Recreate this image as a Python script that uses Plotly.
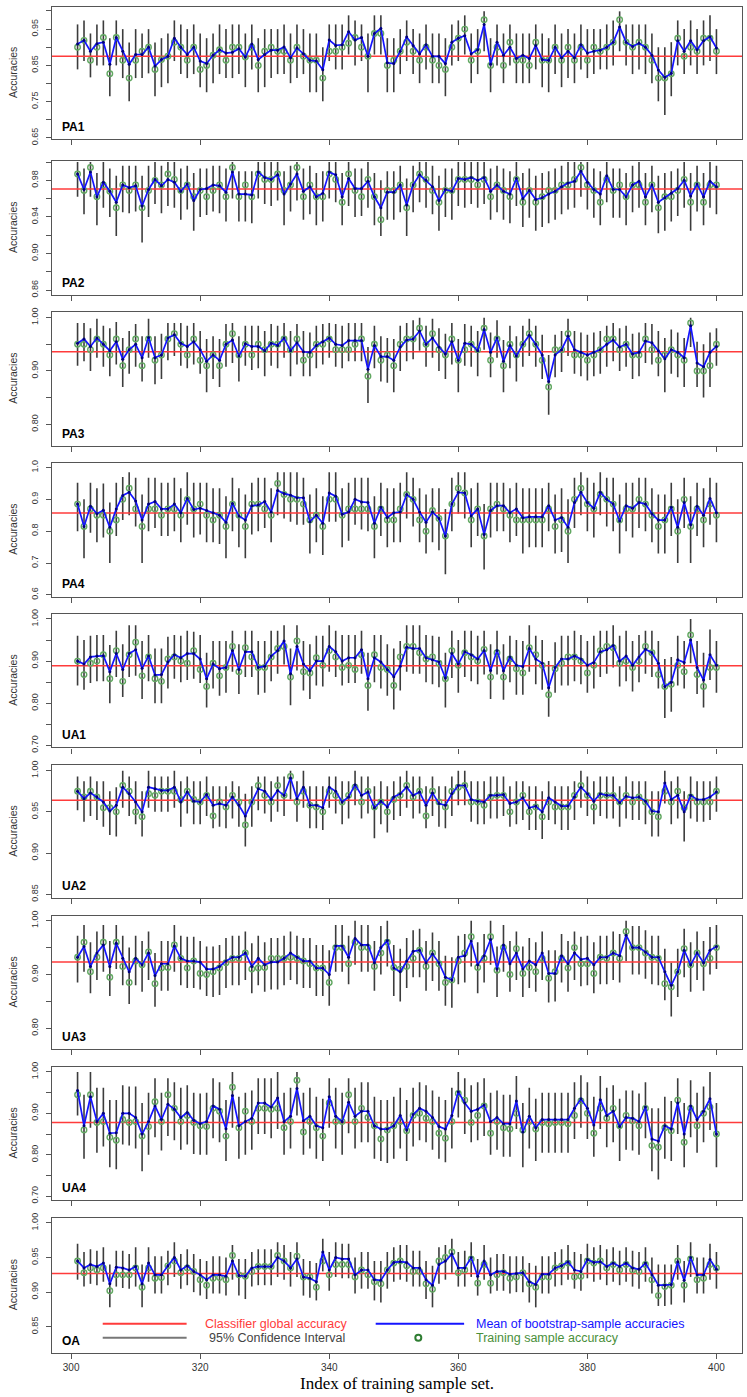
import plotly.graph_objects as go
from plotly.subplots import make_subplots

# ---------------- data ----------------
sample_index = list(range(301, 401))
panel_names = ["PA1", "PA2", "PA3", "PA4", "UA1", "UA2", "UA3", "UA4", "OA"]
global_acc = [0.875, 0.9706, 0.936, 0.857, 0.889, 0.964, 0.923, 0.878, 0.927]

pa1_mean = [0.909, 0.919, 0.889, 0.910, 0.914, 0.853, 0.927, 0.889, 0.853, 0.880,
            0.880, 0.900, 0.848, 0.866, 0.875, 0.925, 0.900, 0.880, 0.900, 0.862,
            0.855, 0.878, 0.893, 0.884, 0.886, 0.896, 0.873, 0.909, 0.866, 0.880,
            0.892, 0.892, 0.901, 0.871, 0.898, 0.882, 0.864, 0.862, 0.838, 0.920,
            0.905, 0.907, 0.943, 0.920, 0.927, 0.875, 0.938, 0.952, 0.857, 0.855,
            0.889, 0.928, 0.905, 0.882, 0.907, 0.875, 0.875, 0.855, 0.914, 0.925,
            0.932, 0.882, 0.893, 0.963, 0.853, 0.914, 0.878, 0.900, 0.869, 0.878,
            0.869, 0.905, 0.866, 0.864, 0.900, 0.871, 0.889, 0.871, 0.907, 0.884,
            0.889, 0.892, 0.900, 0.914, 0.956, 0.914, 0.902, 0.911, 0.900, 0.878,
            0.837, 0.817, 0.828, 0.918, 0.889, 0.918, 0.893, 0.918, 0.929, 0.898]
pa1_lo = [0.839, 0.862, 0.817, 0.850, 0.850, 0.765, 0.850, 0.815, 0.751, 0.815,
          0.815, 0.828, 0.765, 0.790, 0.801, 0.862, 0.826, 0.815, 0.826, 0.790,
          0.776, 0.801, 0.826, 0.815, 0.815, 0.826, 0.790, 0.839, 0.776, 0.790,
          0.815, 0.826, 0.826, 0.801, 0.815, 0.826, 0.776, 0.776, 0.751, 0.862,
          0.839, 0.839, 0.880, 0.850, 0.862, 0.776, 0.880, 0.880, 0.776, 0.776,
          0.826, 0.862, 0.826, 0.801, 0.839, 0.801, 0.801, 0.765, 0.850, 0.862,
          0.880, 0.801, 0.826, 0.889, 0.776, 0.850, 0.801, 0.850, 0.801, 0.801,
          0.801, 0.839, 0.790, 0.776, 0.826, 0.790, 0.815, 0.801, 0.839, 0.815,
          0.826, 0.839, 0.839, 0.850, 0.889, 0.850, 0.826, 0.839, 0.826, 0.801,
          0.751, 0.713, 0.765, 0.850, 0.826, 0.850, 0.826, 0.850, 0.862, 0.826]
pa1_hi = [0.963, 0.974, 0.938, 0.963, 0.974, 0.925, 0.974, 0.950, 0.913, 0.950,
          0.938, 0.950, 0.913, 0.925, 0.938, 0.974, 0.963, 0.950, 0.963, 0.938,
          0.925, 0.938, 0.963, 0.950, 0.963, 0.963, 0.938, 0.963, 0.925, 0.950,
          0.950, 0.950, 0.963, 0.938, 0.963, 0.950, 0.938, 0.938, 0.900, 0.963,
          0.963, 0.963, 0.988, 0.974, 0.963, 0.938, 0.988, 0.988, 0.925, 0.925,
          0.950, 0.974, 0.950, 0.938, 0.963, 0.938, 0.938, 0.925, 0.963, 0.974,
          0.988, 0.938, 0.950, 0.999, 0.925, 0.963, 0.938, 0.963, 0.938, 0.938,
          0.938, 0.963, 0.938, 0.925, 0.963, 0.938, 0.950, 0.938, 0.963, 0.950,
          0.950, 0.950, 0.963, 0.974, 0.999, 0.963, 0.963, 0.963, 0.963, 0.938,
          0.900, 0.900, 0.914, 0.974, 0.950, 0.974, 0.950, 0.974, 0.988, 0.950]
pa1_train = [0.900, 0.919, 0.864, 0.900, 0.927, 0.827, 0.927, 0.864, 0.815, 0.864,
             0.889, 0.900, 0.839, 0.866, 0.875, 0.914, 0.900, 0.864, 0.900, 0.839,
             0.850, 0.878, 0.893, 0.864, 0.900, 0.900, 0.873, 0.900, 0.850, 0.889,
             0.900, 0.889, 0.889, 0.864, 0.900, 0.875, 0.864, 0.864, 0.815, 0.889,
             0.889, 0.900, 0.911, 0.927, 0.900, 0.875, 0.938, 0.938, 0.850, 0.864,
             0.889, 0.914, 0.889, 0.864, 0.900, 0.864, 0.850, 0.839, 0.900, 0.925,
             0.950, 0.864, 0.889, 0.976, 0.850, 0.900, 0.850, 0.914, 0.864, 0.864,
             0.850, 0.914, 0.864, 0.864, 0.900, 0.864, 0.900, 0.864, 0.900, 0.864,
             0.900, 0.889, 0.900, 0.914, 0.976, 0.914, 0.900, 0.914, 0.900, 0.864,
             0.815, 0.815, 0.827, 0.925, 0.875, 0.900, 0.889, 0.925, 0.925, 0.889]

pa2_mean = [0.987, 0.970, 0.989, 0.962, 0.978, 0.968, 0.956, 0.975, 0.972, 0.974,
            0.952, 0.970, 0.981, 0.974, 0.981, 0.978, 0.968, 0.976, 0.958, 0.970,
            0.971, 0.975, 0.974, 0.967, 0.989, 0.965, 0.965, 0.964, 0.989, 0.983,
            0.981, 0.986, 0.965, 0.976, 0.987, 0.968, 0.973, 0.962, 0.966, 0.989,
            0.986, 0.962, 0.982, 0.971, 0.971, 0.979, 0.962, 0.950, 0.967, 0.967,
            0.975, 0.953, 0.975, 0.986, 0.980, 0.973, 0.958, 0.970, 0.968, 0.982,
            0.981, 0.983, 0.980, 0.983, 0.968, 0.975, 0.968, 0.965, 0.982, 0.960,
            0.969, 0.959, 0.961, 0.965, 0.968, 0.973, 0.977, 0.979, 0.990, 0.978,
            0.970, 0.965, 0.985, 0.970, 0.970, 0.962, 0.975, 0.979, 0.962, 0.975,
            0.956, 0.961, 0.966, 0.971, 0.980, 0.963, 0.976, 0.962, 0.979, 0.973]
pa2_lo = [0.962, 0.943, 0.962, 0.931, 0.950, 0.940, 0.919, 0.945, 0.944, 0.946,
          0.912, 0.940, 0.954, 0.944, 0.952, 0.950, 0.937, 0.948, 0.925, 0.940,
          0.942, 0.946, 0.944, 0.935, 0.960, 0.935, 0.935, 0.933, 0.960, 0.954,
          0.952, 0.958, 0.931, 0.946, 0.958, 0.937, 0.943, 0.931, 0.935, 0.960,
          0.956, 0.931, 0.952, 0.940, 0.941, 0.950, 0.931, 0.919, 0.937, 0.937,
          0.945, 0.919, 0.945, 0.956, 0.950, 0.943, 0.925, 0.940, 0.937, 0.952,
          0.950, 0.954, 0.950, 0.954, 0.937, 0.945, 0.937, 0.933, 0.952, 0.929,
          0.939, 0.925, 0.929, 0.933, 0.937, 0.943, 0.948, 0.950, 0.962, 0.948,
          0.939, 0.931, 0.956, 0.939, 0.939, 0.931, 0.945, 0.950, 0.931, 0.945,
          0.922, 0.925, 0.935, 0.941, 0.950, 0.925, 0.946, 0.931, 0.950, 0.943]
pa2_hi = [1.000, 0.993, 1.000, 0.988, 1.000, 0.993, 0.985, 0.996, 0.996, 0.996,
          0.985, 0.996, 1.000, 0.996, 1.000, 1.000, 0.993, 0.996, 0.988, 0.993,
          0.993, 0.996, 0.996, 0.993, 1.000, 0.990, 0.990, 0.990, 1.000, 1.000,
          1.000, 1.000, 0.990, 0.996, 1.000, 0.993, 0.996, 0.988, 0.990, 1.000,
          1.000, 0.988, 1.000, 0.993, 0.993, 1.000, 0.988, 0.980, 0.990, 0.990,
          0.996, 0.982, 0.996, 1.000, 1.000, 0.996, 0.985, 0.993, 0.993, 1.000,
          1.000, 1.000, 1.000, 1.000, 0.993, 0.996, 0.993, 0.990, 1.000, 0.988,
          0.993, 0.985, 0.988, 0.990, 0.993, 0.996, 1.000, 1.000, 1.000, 1.000,
          0.993, 0.990, 1.000, 0.993, 0.993, 0.988, 0.996, 1.000, 0.988, 0.996,
          0.985, 0.988, 0.990, 0.993, 1.000, 0.988, 0.996, 0.988, 1.000, 0.996]
pa2_train = [0.987, 0.969, 0.994, 0.962, 0.975, 0.968, 0.950, 0.975, 0.969, 0.975,
             0.950, 0.969, 0.980, 0.975, 0.987, 0.981, 0.969, 0.975, 0.962, 0.969,
             0.962, 0.969, 0.975, 0.962, 0.994, 0.962, 0.975, 0.962, 0.987, 0.981,
             0.981, 0.987, 0.969, 0.975, 0.994, 0.962, 0.975, 0.962, 0.962, 0.987,
             0.981, 0.956, 0.987, 0.969, 0.962, 0.981, 0.962, 0.937, 0.969, 0.969,
             0.975, 0.950, 0.975, 0.987, 0.981, 0.969, 0.956, 0.969, 0.969, 0.981,
             0.981, 0.981, 0.975, 0.981, 0.962, 0.975, 0.969, 0.962, 0.981, 0.956,
             0.969, 0.956, 0.962, 0.969, 0.969, 0.975, 0.975, 0.981, 0.994, 0.975,
             0.969, 0.956, 0.981, 0.969, 0.975, 0.962, 0.975, 0.975, 0.956, 0.975,
             0.950, 0.962, 0.962, 0.969, 0.981, 0.956, 0.975, 0.956, 0.975, 0.975]

pa3_mean = [0.952, 0.960, 0.946, 0.962, 0.950, 0.938, 0.955, 0.922, 0.940, 0.950,
            0.925, 0.963, 0.925, 0.930, 0.962, 0.968, 0.952, 0.946, 0.955, 0.940,
            0.918, 0.930, 0.920, 0.950, 0.958, 0.928, 0.951, 0.946, 0.946, 0.938,
            0.952, 0.948, 0.962, 0.938, 0.953, 0.936, 0.935, 0.948, 0.955, 0.962,
            0.950, 0.948, 0.957, 0.957, 0.957, 0.903, 0.948, 0.927, 0.927, 0.920,
            0.945, 0.958, 0.960, 0.975, 0.950, 0.962, 0.945, 0.932, 0.955, 0.920,
            0.952, 0.950, 0.938, 0.978, 0.935, 0.962, 0.918, 0.948, 0.928, 0.950,
            0.967, 0.950, 0.930, 0.880, 0.930, 0.940, 0.965, 0.940, 0.935, 0.930,
            0.935, 0.940, 0.950, 0.958, 0.945, 0.950, 0.932, 0.935, 0.956, 0.953,
            0.938, 0.923, 0.940, 0.935, 0.925, 0.985, 0.915, 0.908, 0.935, 0.946]
pa3_lo = [0.910, 0.918, 0.900, 0.925, 0.908, 0.890, 0.912, 0.870, 0.895, 0.908,
          0.880, 0.925, 0.875, 0.885, 0.920, 0.928, 0.910, 0.905, 0.912, 0.895,
          0.860, 0.885, 0.870, 0.908, 0.915, 0.880, 0.910, 0.902, 0.905, 0.890,
          0.910, 0.905, 0.925, 0.890, 0.912, 0.890, 0.890, 0.905, 0.912, 0.925,
          0.908, 0.905, 0.918, 0.918, 0.918, 0.840, 0.905, 0.880, 0.878, 0.860,
          0.900, 0.918, 0.922, 0.938, 0.908, 0.925, 0.900, 0.885, 0.912, 0.860,
          0.910, 0.908, 0.890, 0.940, 0.888, 0.925, 0.860, 0.905, 0.880, 0.908,
          0.928, 0.908, 0.885, 0.818, 0.888, 0.898, 0.928, 0.895, 0.890, 0.882,
          0.890, 0.895, 0.908, 0.918, 0.900, 0.908, 0.885, 0.890, 0.915, 0.912,
          0.890, 0.860, 0.895, 0.888, 0.870, 0.945, 0.870, 0.850, 0.870, 0.910]
pa3_hi = [0.990, 0.990, 0.980, 0.998, 0.985, 0.980, 0.992, 0.962, 0.975, 0.988,
          0.965, 0.998, 0.965, 0.970, 0.990, 0.990, 0.990, 0.985, 0.990, 0.975,
          0.960, 0.965, 0.960, 0.988, 0.990, 0.965, 0.985, 0.985, 0.985, 0.975,
          0.988, 0.985, 0.990, 0.975, 0.988, 0.975, 0.972, 0.985, 0.988, 0.990,
          0.988, 0.985, 0.990, 0.990, 0.990, 0.945, 0.985, 0.965, 0.962, 0.960,
          0.985, 0.990, 0.995, 1.000, 0.985, 0.998, 0.980, 0.970, 0.990, 0.960,
          0.988, 0.985, 0.975, 1.000, 0.972, 0.995, 0.958, 0.985, 0.965, 0.985,
          0.998, 0.985, 0.968, 0.930, 0.968, 0.975, 0.998, 0.975, 0.972, 0.968,
          0.972, 0.975, 0.985, 0.990, 0.980, 0.985, 0.970, 0.972, 0.990, 0.988,
          0.975, 0.962, 0.978, 0.972, 0.962, 1.000, 0.955, 0.950, 0.972, 0.980]
pa3_train = [0.950, 0.950, 0.940, 0.960, 0.950, 0.930, 0.960, 0.910, 0.940, 0.960,
             0.910, 0.960, 0.920, 0.930, 0.960, 0.970, 0.950, 0.930, 0.960, 0.920,
             0.910, 0.930, 0.910, 0.950, 0.970, 0.930, 0.950, 0.930, 0.950, 0.940,
             0.950, 0.950, 0.960, 0.940, 0.960, 0.920, 0.930, 0.950, 0.950, 0.960,
             0.940, 0.940, 0.940, 0.950, 0.960, 0.890, 0.950, 0.920, 0.930, 0.910,
             0.950, 0.960, 0.960, 0.980, 0.950, 0.970, 0.940, 0.930, 0.960, 0.920,
             0.940, 0.950, 0.940, 0.980, 0.920, 0.960, 0.910, 0.950, 0.930, 0.950,
             0.970, 0.950, 0.920, 0.870, 0.940, 0.940, 0.970, 0.930, 0.930, 0.920,
             0.930, 0.940, 0.960, 0.960, 0.940, 0.950, 0.930, 0.930, 0.960, 0.940,
             0.920, 0.930, 0.940, 0.930, 0.920, 0.990, 0.900, 0.900, 0.910, 0.950]

pa4_mean = [0.885, 0.815, 0.878, 0.855, 0.866, 0.812, 0.870, 0.912, 0.922, 0.895,
            0.835, 0.885, 0.893, 0.870, 0.870, 0.885, 0.858, 0.903, 0.868, 0.872,
            0.865, 0.858, 0.850, 0.828, 0.887, 0.848, 0.835, 0.880, 0.882, 0.893,
            0.860, 0.928, 0.918, 0.913, 0.905, 0.905, 0.830, 0.850, 0.825, 0.920,
            0.910, 0.853, 0.860, 0.900, 0.892, 0.890, 0.825, 0.875, 0.843, 0.858,
            0.860, 0.915, 0.900, 0.860, 0.828, 0.860, 0.840, 0.785, 0.885, 0.922,
            0.920, 0.848, 0.870, 0.790, 0.865, 0.880, 0.880, 0.858, 0.870, 0.842,
            0.845, 0.845, 0.845, 0.880, 0.835, 0.843, 0.812, 0.890, 0.922, 0.890,
            0.872, 0.922, 0.900, 0.885, 0.832, 0.880, 0.872, 0.890, 0.885, 0.855,
            0.835, 0.835, 0.875, 0.812, 0.890, 0.820, 0.878, 0.850, 0.903, 0.858]
pa4_lo = [0.800, 0.715, 0.795, 0.765, 0.780, 0.700, 0.785, 0.835, 0.850, 0.815,
          0.700, 0.800, 0.810, 0.785, 0.785, 0.800, 0.765, 0.820, 0.780, 0.790,
          0.765, 0.765, 0.760, 0.715, 0.800, 0.750, 0.715, 0.790, 0.800, 0.810,
          0.765, 0.850, 0.840, 0.830, 0.820, 0.820, 0.730, 0.765, 0.725, 0.830,
          0.830, 0.750, 0.770, 0.820, 0.805, 0.800, 0.715, 0.785, 0.750, 0.765,
          0.765, 0.840, 0.815, 0.765, 0.730, 0.765, 0.740, 0.665, 0.800, 0.855,
          0.840, 0.750, 0.785, 0.680, 0.780, 0.800, 0.800, 0.765, 0.785, 0.730,
          0.750, 0.750, 0.750, 0.800, 0.730, 0.735, 0.700, 0.810, 0.850, 0.800,
          0.780, 0.850, 0.815, 0.800, 0.730, 0.800, 0.780, 0.810, 0.800, 0.765,
          0.730, 0.730, 0.785, 0.700, 0.810, 0.700, 0.785, 0.750, 0.820, 0.765]
pa4_hi = [0.952, 0.900, 0.952, 0.935, 0.950, 0.890, 0.952, 0.970, 0.985, 0.968,
          0.915, 0.968, 0.968, 0.952, 0.952, 0.968, 0.935, 0.985, 0.952, 0.952,
          0.952, 0.935, 0.935, 0.910, 0.968, 0.935, 0.915, 0.952, 0.968, 0.968,
          0.935, 0.985, 0.985, 0.985, 0.985, 0.968, 0.915, 0.935, 0.910, 0.985,
          0.985, 0.935, 0.952, 0.968, 0.968, 0.968, 0.910, 0.952, 0.935, 0.935,
          0.952, 0.985, 0.968, 0.935, 0.915, 0.935, 0.935, 0.870, 0.968, 0.985,
          0.985, 0.935, 0.952, 0.885, 0.952, 0.952, 0.952, 0.935, 0.952, 0.935,
          0.935, 0.935, 0.935, 0.952, 0.915, 0.935, 0.900, 0.968, 0.985, 0.968,
          0.952, 0.985, 0.968, 0.968, 0.915, 0.952, 0.952, 0.968, 0.968, 0.935,
          0.915, 0.915, 0.952, 0.900, 0.968, 0.910, 0.952, 0.935, 0.968, 0.952]
pa4_train = [0.885, 0.815, 0.870, 0.850, 0.850, 0.800, 0.835, 0.900, 0.935, 0.870,
             0.815, 0.870, 0.870, 0.850, 0.870, 0.870, 0.850, 0.900, 0.870, 0.885,
             0.850, 0.835, 0.850, 0.815, 0.885, 0.850, 0.815, 0.885, 0.885, 0.870,
             0.850, 0.950, 0.915, 0.900, 0.900, 0.885, 0.835, 0.850, 0.815, 0.900,
             0.900, 0.850, 0.870, 0.870, 0.870, 0.870, 0.815, 0.870, 0.835, 0.835,
             0.870, 0.915, 0.900, 0.835, 0.800, 0.865, 0.840, 0.785, 0.885, 0.935,
             0.920, 0.835, 0.870, 0.785, 0.870, 0.885, 0.870, 0.850, 0.835, 0.835,
             0.835, 0.835, 0.835, 0.870, 0.815, 0.835, 0.800, 0.900, 0.935, 0.885,
             0.870, 0.915, 0.900, 0.885, 0.835, 0.870, 0.870, 0.900, 0.885, 0.850,
             0.815, 0.835, 0.870, 0.800, 0.900, 0.815, 0.870, 0.835, 0.885, 0.850]

ua1_mean = [0.900, 0.893, 0.910, 0.912, 0.913, 0.875, 0.918, 0.880, 0.918, 0.927,
            0.883, 0.912, 0.867, 0.868, 0.898, 0.915, 0.908, 0.918, 0.918, 0.905,
            0.858, 0.893, 0.882, 0.885, 0.925, 0.880, 0.922, 0.922, 0.885, 0.888,
            0.912, 0.925, 0.948, 0.870, 0.935, 0.893, 0.877, 0.900, 0.900, 0.935,
            0.922, 0.900, 0.908, 0.908, 0.927, 0.858, 0.908, 0.898, 0.880, 0.863,
            0.888, 0.933, 0.930, 0.930, 0.908, 0.903, 0.898, 0.860, 0.918, 0.893,
            0.922, 0.915, 0.905, 0.925, 0.878, 0.925, 0.877, 0.910, 0.890, 0.887,
            0.930, 0.905, 0.895, 0.837, 0.885, 0.905, 0.905, 0.912, 0.905, 0.890,
            0.897, 0.922, 0.927, 0.937, 0.900, 0.912, 0.890, 0.910, 0.928, 0.920,
            0.895, 0.840, 0.850, 0.903, 0.897, 0.950, 0.885, 0.855, 0.915, 0.890]
ua1_lo = [0.842, 0.832, 0.848, 0.852, 0.852, 0.800, 0.862, 0.815, 0.862, 0.865,
          0.810, 0.852, 0.800, 0.800, 0.835, 0.858, 0.850, 0.855, 0.858, 0.848,
          0.790, 0.835, 0.818, 0.825, 0.875, 0.822, 0.862, 0.862, 0.820, 0.825,
          0.852, 0.870, 0.892, 0.795, 0.878, 0.830, 0.810, 0.842, 0.840, 0.875,
          0.862, 0.842, 0.848, 0.848, 0.870, 0.782, 0.850, 0.835, 0.818, 0.785,
          0.830, 0.875, 0.870, 0.870, 0.850, 0.845, 0.838, 0.790, 0.860, 0.825,
          0.862, 0.852, 0.845, 0.868, 0.810, 0.868, 0.808, 0.850, 0.820, 0.820,
          0.875, 0.845, 0.832, 0.768, 0.825, 0.842, 0.842, 0.852, 0.845, 0.825,
          0.835, 0.862, 0.870, 0.885, 0.840, 0.852, 0.828, 0.850, 0.870, 0.862,
          0.835, 0.765, 0.780, 0.842, 0.835, 0.895, 0.822, 0.790, 0.855, 0.825]
ua1_hi = [0.960, 0.950, 0.960, 0.962, 0.962, 0.938, 0.972, 0.940, 0.985, 0.985,
          0.948, 0.962, 0.930, 0.930, 0.958, 0.962, 0.960, 0.972, 0.970, 0.962,
          0.920, 0.948, 0.948, 0.948, 0.972, 0.940, 0.972, 0.972, 0.948, 0.948,
          0.972, 0.972, 0.985, 0.930, 0.985, 0.948, 0.940, 0.960, 0.960, 0.985,
          0.972, 0.962, 0.962, 0.962, 0.972, 0.920, 0.962, 0.962, 0.940, 0.930,
          0.948, 0.985, 0.985, 0.985, 0.962, 0.960, 0.958, 0.920, 0.972, 0.950,
          0.972, 0.972, 0.960, 0.972, 0.940, 0.972, 0.940, 0.960, 0.950, 0.948,
          0.985, 0.960, 0.950, 0.900, 0.945, 0.960, 0.960, 0.972, 0.962, 0.948,
          0.960, 0.972, 0.972, 0.985, 0.960, 0.972, 0.948, 0.962, 0.972, 0.972,
          0.948, 0.905, 0.910, 0.960, 0.948, 1.000, 0.948, 0.920, 0.975, 0.948]
ua1_train = [0.900, 0.868, 0.895, 0.900, 0.915, 0.858, 0.925, 0.852, 0.915, 0.945,
             0.865, 0.910, 0.858, 0.852, 0.905, 0.910, 0.900, 0.895, 0.925, 0.880,
             0.840, 0.895, 0.865, 0.885, 0.935, 0.875, 0.932, 0.910, 0.885, 0.885,
             0.910, 0.930, 0.935, 0.862, 0.948, 0.875, 0.872, 0.908, 0.890, 0.925,
             0.910, 0.885, 0.890, 0.880, 0.915, 0.842, 0.915, 0.885, 0.880, 0.842,
             0.910, 0.935, 0.935, 0.920, 0.905, 0.910, 0.895, 0.858, 0.925, 0.890,
             0.920, 0.910, 0.900, 0.928, 0.862, 0.920, 0.862, 0.905, 0.882, 0.872,
             0.932, 0.915, 0.890, 0.820, 0.882, 0.895, 0.910, 0.910, 0.900, 0.872,
             0.890, 0.925, 0.935, 0.932, 0.895, 0.900, 0.885, 0.900, 0.935, 0.920,
             0.868, 0.840, 0.845, 0.890, 0.875, 0.962, 0.868, 0.840, 0.885, 0.885]

ua2_mean = [0.975, 0.966, 0.973, 0.968, 0.962, 0.951, 0.958, 0.980, 0.972, 0.962,
            0.950, 0.980, 0.978, 0.976, 0.976, 0.980, 0.962, 0.974, 0.963, 0.962,
            0.971, 0.958, 0.960, 0.958, 0.968, 0.958, 0.945, 0.962, 0.978, 0.975,
            0.965, 0.976, 0.970, 0.991, 0.966, 0.980, 0.958, 0.958, 0.955, 0.980,
            0.975, 0.962, 0.968, 0.983, 0.970, 0.974, 0.955, 0.963, 0.956, 0.968,
            0.972, 0.980, 0.970, 0.974, 0.958, 0.973, 0.960, 0.958, 0.972, 0.982,
            0.982, 0.965, 0.963, 0.962, 0.970, 0.970, 0.971, 0.960, 0.962, 0.967,
            0.955, 0.957, 0.950, 0.967, 0.962, 0.957, 0.957, 0.968, 0.980, 0.972,
            0.963, 0.972, 0.970, 0.970, 0.961, 0.969, 0.967, 0.968, 0.963, 0.951,
            0.950, 0.985, 0.965, 0.970, 0.950, 0.970, 0.965, 0.965, 0.968, 0.974]
ua2_lo = [0.952, 0.938, 0.945, 0.940, 0.932, 0.922, 0.920, 0.955, 0.945, 0.935,
          0.920, 0.955, 0.950, 0.950, 0.950, 0.955, 0.932, 0.948, 0.935, 0.935,
          0.945, 0.930, 0.932, 0.930, 0.942, 0.932, 0.908, 0.932, 0.952, 0.948,
          0.938, 0.950, 0.945, 0.965, 0.938, 0.955, 0.930, 0.930, 0.928, 0.955,
          0.948, 0.935, 0.942, 0.958, 0.942, 0.948, 0.918, 0.935, 0.925, 0.940,
          0.945, 0.955, 0.942, 0.948, 0.930, 0.945, 0.932, 0.930, 0.945, 0.958,
          0.958, 0.938, 0.935, 0.935, 0.942, 0.942, 0.945, 0.932, 0.935, 0.940,
          0.928, 0.928, 0.917, 0.940, 0.935, 0.928, 0.928, 0.940, 0.955, 0.945,
          0.935, 0.945, 0.942, 0.942, 0.932, 0.942, 0.940, 0.940, 0.935, 0.920,
          0.920, 0.960, 0.935, 0.942, 0.914, 0.942, 0.938, 0.938, 0.940, 0.950]
ua2_hi = [0.993, 0.987, 0.993, 0.987, 0.987, 0.975, 0.980, 1.000, 0.993, 0.987,
          0.975, 1.000, 0.993, 0.993, 0.993, 1.000, 0.987, 0.993, 0.987, 0.987,
          0.993, 0.981, 0.981, 0.981, 0.987, 0.981, 0.972, 0.981, 0.993, 0.993,
          0.987, 0.993, 0.993, 1.000, 0.987, 1.000, 0.981, 0.981, 0.981, 0.993,
          0.993, 0.987, 0.987, 1.000, 0.993, 0.993, 0.981, 0.987, 0.981, 0.987,
          0.993, 1.000, 0.993, 0.993, 0.981, 0.993, 0.981, 0.981, 0.993, 1.000,
          1.000, 0.987, 0.987, 0.987, 0.993, 0.993, 0.993, 0.981, 0.987, 0.987,
          0.981, 0.981, 0.975, 0.987, 0.981, 0.981, 0.981, 0.987, 1.000, 0.993,
          0.987, 0.993, 0.993, 0.993, 0.981, 0.993, 0.987, 0.987, 0.987, 0.975,
          0.975, 1.000, 0.987, 0.993, 0.975, 0.993, 0.987, 0.987, 0.987, 0.993]
ua2_train = [0.975, 0.968, 0.975, 0.968, 0.955, 0.955, 0.950, 0.982, 0.975, 0.950,
             0.944, 0.972, 0.970, 0.975, 0.975, 0.975, 0.965, 0.975, 0.965, 0.962,
             0.970, 0.945, 0.962, 0.956, 0.970, 0.962, 0.934, 0.962, 0.982, 0.970,
             0.962, 0.982, 0.970, 0.993, 0.962, 0.975, 0.958, 0.956, 0.950, 0.975,
             0.970, 0.962, 0.970, 0.980, 0.962, 0.975, 0.956, 0.962, 0.950, 0.965,
             0.970, 0.982, 0.968, 0.975, 0.945, 0.975, 0.962, 0.956, 0.975, 0.980,
             0.982, 0.962, 0.962, 0.958, 0.968, 0.970, 0.970, 0.950, 0.962, 0.970,
             0.950, 0.956, 0.944, 0.962, 0.956, 0.956, 0.956, 0.970, 0.982, 0.970,
             0.956, 0.970, 0.970, 0.970, 0.962, 0.970, 0.962, 0.968, 0.962, 0.950,
             0.944, 0.975, 0.962, 0.975, 0.955, 0.968, 0.962, 0.962, 0.962, 0.975]

ua3_mean = [0.932, 0.952, 0.915, 0.940, 0.955, 0.915, 0.958, 0.930, 0.905, 0.930,
            0.918, 0.940, 0.898, 0.920, 0.920, 0.953, 0.930, 0.925, 0.925, 0.923,
            0.910, 0.910, 0.915, 0.925, 0.932, 0.932, 0.940, 0.915, 0.930, 0.918,
            0.923, 0.923, 0.930, 0.940, 0.932, 0.925, 0.925, 0.912, 0.912, 0.900,
            0.953, 0.953, 0.932, 0.967, 0.955, 0.955, 0.922, 0.950, 0.963, 0.912,
            0.905, 0.925, 0.943, 0.945, 0.922, 0.938, 0.922, 0.895, 0.890, 0.932,
            0.935, 0.962, 0.918, 0.935, 0.965, 0.910, 0.955, 0.920, 0.940, 0.910,
            0.925, 0.918, 0.940, 0.902, 0.902, 0.935, 0.920, 0.940, 0.928, 0.930,
            0.918, 0.932, 0.932, 0.940, 0.935, 0.973, 0.950, 0.950, 0.942, 0.932,
            0.932, 0.905, 0.880, 0.905, 0.945, 0.918, 0.940, 0.922, 0.945, 0.952]
ua3_lo = [0.885, 0.905, 0.865, 0.890, 0.905, 0.860, 0.910, 0.880, 0.845, 0.880,
          0.868, 0.890, 0.840, 0.870, 0.870, 0.905, 0.880, 0.875, 0.875, 0.872,
          0.860, 0.858, 0.862, 0.875, 0.880, 0.880, 0.890, 0.865, 0.880, 0.868,
          0.872, 0.872, 0.880, 0.890, 0.882, 0.875, 0.875, 0.860, 0.860, 0.842,
          0.905, 0.905, 0.882, 0.918, 0.905, 0.905, 0.870, 0.900, 0.915, 0.860,
          0.850, 0.875, 0.895, 0.895, 0.870, 0.888, 0.870, 0.842, 0.838, 0.882,
          0.885, 0.915, 0.865, 0.885, 0.918, 0.858, 0.905, 0.868, 0.890, 0.858,
          0.875, 0.868, 0.890, 0.848, 0.850, 0.885, 0.868, 0.890, 0.878, 0.880,
          0.865, 0.882, 0.882, 0.890, 0.885, 0.925, 0.900, 0.900, 0.892, 0.882,
          0.880, 0.852, 0.822, 0.858, 0.895, 0.868, 0.890, 0.870, 0.900, 0.910]
ua3_hi = [0.972, 0.992, 0.960, 0.980, 0.992, 0.962, 0.992, 0.972, 0.950, 0.972,
          0.962, 0.980, 0.940, 0.962, 0.962, 0.992, 0.972, 0.970, 0.970, 0.962,
          0.952, 0.952, 0.955, 0.968, 0.972, 0.972, 0.980, 0.958, 0.972, 0.960,
          0.968, 0.968, 0.972, 0.980, 0.972, 0.968, 0.968, 0.955, 0.955, 0.945,
          0.992, 0.992, 0.972, 1.000, 0.992, 0.992, 0.962, 0.990, 1.000, 0.955,
          0.948, 0.968, 0.982, 0.985, 0.962, 0.978, 0.962, 0.935, 0.932, 0.972,
          0.975, 1.000, 0.960, 0.975, 1.000, 0.952, 0.992, 0.962, 0.980, 0.952,
          0.968, 0.960, 0.980, 0.945, 0.945, 0.975, 0.962, 0.980, 0.970, 0.972,
          0.960, 0.972, 0.972, 0.980, 0.975, 1.000, 0.990, 0.990, 0.982, 0.972,
          0.972, 0.948, 0.922, 0.948, 0.985, 0.960, 0.980, 0.962, 0.988, 0.992]
ua3_train = [0.932, 0.960, 0.905, 0.932, 0.960, 0.895, 0.960, 0.915, 0.885, 0.925,
             0.918, 0.942, 0.883, 0.912, 0.913, 0.955, 0.930, 0.912, 0.925, 0.902,
             0.900, 0.905, 0.912, 0.922, 0.930, 0.930, 0.940, 0.910, 0.912, 0.913,
             0.930, 0.930, 0.930, 0.932, 0.930, 0.925, 0.920, 0.912, 0.912, 0.885,
             0.950, 0.950, 0.920, 0.960, 0.950, 0.950, 0.915, 0.940, 0.960, 0.913,
             0.910, 0.915, 0.930, 0.945, 0.915, 0.940, 0.920, 0.885, 0.890, 0.925,
             0.940, 0.970, 0.913, 0.930, 0.970, 0.908, 0.950, 0.900, 0.948, 0.902,
             0.913, 0.905, 0.930, 0.893, 0.905, 0.930, 0.912, 0.950, 0.920, 0.920,
             0.902, 0.932, 0.930, 0.940, 0.930, 0.980, 0.950, 0.950, 0.940, 0.932,
             0.930, 0.883, 0.877, 0.905, 0.948, 0.918, 0.940, 0.920, 0.930, 0.950]

ua4_mean = [0.955, 0.870, 0.940, 0.880, 0.900, 0.852, 0.853, 0.900, 0.900, 0.890,
            0.850, 0.880, 0.918, 0.885, 0.922, 0.910, 0.890, 0.902, 0.883, 0.875,
            0.880, 0.918, 0.910, 0.863, 0.943, 0.870, 0.880, 0.888, 0.925, 0.925,
            0.915, 0.937, 0.880, 0.893, 0.960, 0.882, 0.893, 0.870, 0.865, 0.940,
            0.893, 0.880, 0.927, 0.893, 0.905, 0.905, 0.870, 0.862, 0.862, 0.870,
            0.895, 0.860, 0.897, 0.912, 0.905, 0.890, 0.868, 0.862, 0.895, 0.952,
            0.925, 0.905, 0.910, 0.920, 0.880, 0.890, 0.875, 0.875, 0.930, 0.855,
            0.893, 0.865, 0.885, 0.885, 0.885, 0.885, 0.885, 0.912, 0.935, 0.912,
            0.872, 0.933, 0.895, 0.905, 0.868, 0.890, 0.888, 0.880, 0.915, 0.838,
            0.833, 0.870, 0.862, 0.925, 0.850, 0.918, 0.885, 0.905, 0.935, 0.850]
ua4_lo = [0.895, 0.790, 0.865, 0.805, 0.820, 0.770, 0.765, 0.825, 0.822, 0.815,
          0.760, 0.800, 0.842, 0.810, 0.845, 0.835, 0.812, 0.825, 0.802, 0.800,
          0.800, 0.840, 0.830, 0.785, 0.865, 0.790, 0.800, 0.812, 0.850, 0.850,
          0.840, 0.862, 0.800, 0.815, 0.895, 0.800, 0.815, 0.790, 0.785, 0.865,
          0.815, 0.800, 0.852, 0.815, 0.830, 0.830, 0.790, 0.785, 0.780, 0.790,
          0.815, 0.785, 0.820, 0.835, 0.830, 0.812, 0.790, 0.782, 0.815, 0.890,
          0.850, 0.830, 0.835, 0.845, 0.800, 0.812, 0.795, 0.795, 0.862, 0.770,
          0.815, 0.785, 0.805, 0.805, 0.805, 0.805, 0.805, 0.838, 0.865, 0.838,
          0.795, 0.862, 0.818, 0.830, 0.785, 0.812, 0.810, 0.800, 0.840, 0.760,
          0.740, 0.790, 0.785, 0.850, 0.770, 0.842, 0.805, 0.830, 0.860, 0.770]
ua4_hi = [1.000, 0.945, 1.000, 0.962, 0.962, 0.932, 0.932, 0.968, 0.965, 0.965,
          0.925, 0.950, 0.985, 0.950, 0.985, 0.975, 0.962, 0.968, 0.950, 0.948,
          0.950, 0.985, 0.975, 0.932, 1.000, 0.940, 0.950, 0.955, 0.985, 0.985,
          0.985, 1.000, 0.950, 0.962, 1.000, 0.950, 0.962, 0.940, 0.935, 0.985,
          0.962, 0.950, 0.985, 0.962, 0.975, 0.975, 0.940, 0.932, 0.932, 0.940,
          0.962, 0.932, 0.962, 0.975, 0.968, 0.955, 0.940, 0.932, 0.962, 1.000,
          0.985, 0.968, 0.975, 0.985, 0.950, 0.955, 0.945, 0.945, 0.990, 0.925,
          0.962, 0.935, 0.950, 0.950, 0.950, 0.950, 0.950, 0.975, 0.992, 0.975,
          0.940, 0.990, 0.962, 0.968, 0.935, 0.955, 0.955, 0.948, 0.975, 0.912,
          0.912, 0.940, 0.930, 0.985, 0.925, 0.980, 0.950, 0.965, 1.000, 0.925]
ua4_train = [0.945, 0.860, 0.945, 0.878, 0.880, 0.842, 0.835, 0.885, 0.878, 0.880,
             0.845, 0.868, 0.928, 0.880, 0.945, 0.912, 0.880, 0.895, 0.878, 0.870,
             0.868, 0.912, 0.905, 0.845, 0.963, 0.865, 0.905, 0.880, 0.912, 0.912,
             0.910, 0.912, 0.865, 0.880, 0.980, 0.855, 0.880, 0.865, 0.845, 0.925,
             0.880, 0.880, 0.945, 0.880, 0.912, 0.890, 0.870, 0.838, 0.860, 0.870,
             0.880, 0.858, 0.895, 0.900, 0.888, 0.880, 0.852, 0.840, 0.880, 0.948,
             0.932, 0.878, 0.895, 0.918, 0.852, 0.880, 0.865, 0.862, 0.900, 0.860,
             0.880, 0.862, 0.878, 0.875, 0.878, 0.878, 0.875, 0.895, 0.930, 0.900,
             0.852, 0.912, 0.888, 0.912, 0.870, 0.895, 0.882, 0.870, 0.912, 0.822,
             0.818, 0.865, 0.858, 0.932, 0.830, 0.912, 0.870, 0.900, 0.915, 0.850]

oa_mean = [0.945, 0.935, 0.940, 0.937, 0.942, 0.912, 0.936, 0.935, 0.932, 0.937,
           0.912, 0.942, 0.925, 0.925, 0.938, 0.950, 0.932, 0.938, 0.930, 0.925,
           0.918, 0.925, 0.925, 0.923, 0.945, 0.924, 0.923, 0.935, 0.937, 0.937,
           0.937, 0.950, 0.945, 0.935, 0.948, 0.922, 0.920, 0.915, 0.958, 0.932,
           0.950, 0.948, 0.948, 0.925, 0.932, 0.932, 0.918, 0.917, 0.932, 0.943,
           0.944, 0.943, 0.935, 0.935, 0.918, 0.910, 0.940, 0.945, 0.955, 0.935,
           0.935, 0.950, 0.923, 0.945, 0.925, 0.930, 0.930, 0.926, 0.927, 0.928,
           0.915, 0.911, 0.926, 0.926, 0.935, 0.938, 0.944, 0.932, 0.930, 0.947,
           0.943, 0.944, 0.937, 0.942, 0.937, 0.942, 0.935, 0.933, 0.942, 0.925,
           0.910, 0.910, 0.911, 0.944, 0.917, 0.950, 0.925, 0.925, 0.947, 0.933]
oa_lo = [0.918, 0.908, 0.912, 0.910, 0.915, 0.878, 0.908, 0.906, 0.905, 0.908,
         0.878, 0.915, 0.898, 0.898, 0.910, 0.922, 0.905, 0.910, 0.900, 0.895,
         0.890, 0.898, 0.898, 0.895, 0.918, 0.895, 0.890, 0.908, 0.910, 0.910,
         0.910, 0.922, 0.918, 0.908, 0.922, 0.895, 0.892, 0.888, 0.930, 0.902,
         0.922, 0.920, 0.920, 0.898, 0.905, 0.905, 0.888, 0.885, 0.905, 0.915,
         0.918, 0.915, 0.908, 0.908, 0.890, 0.878, 0.912, 0.918, 0.928, 0.908,
         0.908, 0.922, 0.895, 0.918, 0.898, 0.902, 0.902, 0.898, 0.900, 0.900,
         0.885, 0.878, 0.898, 0.898, 0.908, 0.910, 0.918, 0.905, 0.902, 0.920,
         0.915, 0.918, 0.910, 0.915, 0.910, 0.915, 0.908, 0.905, 0.915, 0.898,
         0.880, 0.880, 0.882, 0.918, 0.885, 0.922, 0.898, 0.898, 0.918, 0.905]
oa_hi = [0.970, 0.958, 0.962, 0.960, 0.965, 0.940, 0.960, 0.960, 0.955, 0.965,
         0.940, 0.965, 0.952, 0.952, 0.960, 0.972, 0.955, 0.962, 0.955, 0.948,
         0.945, 0.952, 0.952, 0.950, 0.968, 0.948, 0.948, 0.958, 0.962, 0.962,
         0.962, 0.972, 0.968, 0.958, 0.972, 0.948, 0.945, 0.942, 0.977, 0.958,
         0.972, 0.970, 0.970, 0.950, 0.958, 0.958, 0.945, 0.945, 0.958, 0.965,
         0.968, 0.968, 0.960, 0.960, 0.945, 0.938, 0.965, 0.968, 0.977, 0.958,
         0.960, 0.972, 0.948, 0.968, 0.950, 0.955, 0.955, 0.952, 0.952, 0.952,
         0.942, 0.938, 0.952, 0.952, 0.958, 0.962, 0.968, 0.958, 0.955, 0.970,
         0.965, 0.968, 0.962, 0.965, 0.960, 0.965, 0.960, 0.958, 0.965, 0.950,
         0.940, 0.940, 0.940, 0.968, 0.945, 0.972, 0.950, 0.950, 0.970, 0.958]
oa_train = [0.945, 0.928, 0.935, 0.932, 0.935, 0.902, 0.925, 0.925, 0.925, 0.935,
            0.907, 0.935, 0.920, 0.921, 0.938, 0.945, 0.928, 0.935, 0.930, 0.918,
            0.910, 0.920, 0.921, 0.918, 0.953, 0.925, 0.923, 0.930, 0.937, 0.937,
            0.937, 0.953, 0.945, 0.935, 0.952, 0.922, 0.922, 0.907, 0.945, 0.925,
            0.940, 0.940, 0.940, 0.922, 0.932, 0.925, 0.915, 0.912, 0.932, 0.942,
            0.945, 0.938, 0.930, 0.930, 0.912, 0.904, 0.945, 0.950, 0.958, 0.928,
            0.932, 0.948, 0.913, 0.940, 0.913, 0.925, 0.928, 0.920, 0.922, 0.928,
            0.912, 0.907, 0.922, 0.922, 0.935, 0.938, 0.942, 0.922, 0.923, 0.945,
            0.942, 0.945, 0.935, 0.940, 0.932, 0.940, 0.932, 0.930, 0.940, 0.918,
            0.895, 0.908, 0.910, 0.945, 0.910, 0.948, 0.918, 0.920, 0.940, 0.935]

# y tick values / labels per panel (R drops every other label where they collide)
pa1_ticks = [0.65, 0.70, 0.75, 0.80, 0.85, 0.90, 0.95, 1.00]
pa1_ticktext = ["0.65", "", "0.75", "", "0.85", "", "0.95", ""]
pa2_ticks = [0.86, 0.88, 0.90, 0.92, 0.94, 0.96, 0.98, 1.00]
pa2_ticktext = ["0.86", "", "0.90", "", "0.94", "", "0.98", ""]
pa3_ticks = [0.80, 0.85, 0.90, 0.95, 1.00]
pa3_ticktext = ["0.80", "", "0.90", "", "1.00"]
pa4_ticks = [0.6, 0.7, 0.8, 0.9, 1.0]
pa4_ticktext = ["0.6", "0.7", "0.8", "0.9", "1.0"]
ua1_ticks = [0.70, 0.75, 0.80, 0.85, 0.90, 0.95, 1.00]
ua1_ticktext = ["0.70", "", "0.80", "", "0.90", "", "1.00"]
ua2_ticks = [0.85, 0.90, 0.95, 1.00]
ua2_ticktext = ["0.85", "0.90", "0.95", "1.00"]
ua3_ticks = [0.80, 0.85, 0.90, 0.95, 1.00]
ua3_ticktext = ["0.80", "", "0.90", "", "1.00"]
ua4_ticks = [0.70, 0.75, 0.80, 0.85, 0.90, 0.95, 1.00]
ua4_ticktext = ["0.70", "", "0.80", "", "0.90", "", "1.00"]
oa_ticks = [0.85, 0.90, 0.95, 1.00]
oa_ticktext = ["0.85", "0.90", "0.95", "1.00"]
x_ticks = [300, 320, 340, 360, 380, 400]

panels = [
    ("PA1", pa1_mean, pa1_lo, pa1_hi, pa1_train, pa1_ticks, pa1_ticktext, [0.647, 1.011]),
    ("PA2", pa2_mean, pa2_lo, pa2_hi, pa2_train, pa2_ticks, pa2_ticktext, [0.855, 1.001]),
    ("PA3", pa3_mean, pa3_lo, pa3_hi, pa3_train, pa3_ticks, pa3_ticktext, [0.760, 1.0105]),
    ("PA4", pa4_mean, pa4_lo, pa4_hi, pa4_train, pa4_ticks, pa4_ticktext, [0.595, 1.014]),
    ("UA1", ua1_mean, ua1_lo, ua1_hi, ua1_train, ua1_ticks, ua1_ticktext, [0.695, 1.012]),
    ("UA2", ua2_mean, ua2_lo, ua2_hi, ua2_train, ua2_ticks, ua2_ticktext, [0.845, 1.007]),
    ("UA3", ua3_mean, ua3_lo, ua3_hi, ua3_train, ua3_ticks, ua3_ticktext, [0.761, 1.009]),
    ("UA4", ua4_mean, ua4_lo, ua4_hi, ua4_train, ua4_ticks, ua4_ticktext, [0.690, 1.0125]),
    ("OA", oa_mean, oa_lo, oa_hi, oa_train, oa_ticks, oa_ticktext, [0.812, 1.0076]),
]

# ---------------- figure ----------------
W, H = 747, 1397
M_L, M_R, M_T, M_B = 52, 5, 2, 44
plot_h = H - M_T - M_B
x_range = [297.04, 403.96]

RED = "#ff3b3b"
BLUE = "#1414ff"
GREY = "#3c3c3c"
GREEN = "#62a862"
FRAME = "#555555"

fig = make_subplots(rows=9, cols=1)

for k, (name, mean, lo, hi, train, ticks, ticktext, yr) in enumerate(panels):
    row = k + 1
    err_up = [h - m for h, m in zip(hi, mean)]
    err_dn = [m - l for m, l in zip(mean, lo)]

    # 95% CI as error bars (no caps)
    fig.add_trace(go.Scatter(
        x=sample_index, y=mean, mode="markers", marker=dict(size=0.1, opacity=0),
        error_y=dict(type="data", symmetric=False, array=err_up, arrayminus=err_dn,
                     color=GREY, thickness=1.6, width=0),
        showlegend=False, hoverinfo="skip"), row=row, col=1)

    # classifier global accuracy
    fig.add_trace(go.Scatter(
        x=x_range, y=[global_acc[k]] * 2, mode="lines",
        line=dict(color=RED, width=1.5), showlegend=False, hoverinfo="skip"),
        row=row, col=1)

    # training sample accuracy
    fig.add_trace(go.Scatter(
        x=sample_index, y=train, mode="markers",
        marker=dict(symbol="circle-open", size=5.5, color=GREEN, line=dict(width=1.4)),
        showlegend=False), row=row, col=1)

    # mean of bootstrap-sample accuracies
    fig.add_trace(go.Scatter(
        x=sample_index, y=mean, mode="lines+markers",
        line=dict(color=BLUE, width=1.7),
        marker=dict(size=3, color="#00007a"),
        showlegend=False), row=row, col=1)

    # panel frames: first one sits on the top edge, the rest step 151.5 px
    if k == 0:
        top_px, bot_px = 2, 134.5
    else:
        top_px = 156.7 + 151.5 * (k - 1)
        bot_px = top_px + 134 if k < 8 else H - M_B
    dom = [(H - M_B - bot_px) / plot_h, (H - M_B - top_px) / plot_h]
    sfx = "" if row == 1 else str(row)

    fig.update_layout({
        f"yaxis{sfx}": dict(
            domain=dom, range=yr, tickvals=ticks, ticktext=ticktext,
            ticks="outside", ticklen=5, tickcolor=FRAME, tickangle=-90,
            tickfont=dict(family="Liberation Sans, Arial", size=9, color="#333333"),
            ticklabelstandoff=4,
            showline=True, mirror=True, linecolor=FRAME, linewidth=1.2,
            showgrid=False, zeroline=False),
        f"xaxis{sfx}": dict(
            range=x_range, tickvals=x_ticks, ticks="outside", ticklen=5,
            tickcolor=FRAME, showticklabels=(row == 9),
            tickfont=dict(family="Liberation Sans, Arial", size=10, color="#333333"),
            showline=True, mirror=True, linecolor=FRAME, linewidth=1.2,
            showgrid=False, zeroline=False),
    })

    # panel label and y title
    fig.add_annotation(text=f"<b>{name}</b>", xref=f"x{sfx} domain", yref=f"y{sfx} domain",
                       x=0.012, y=0.09, xanchor="left", yanchor="middle", showarrow=False,
                       font=dict(family="Liberation Sans, Arial", size=12, color="black"))
    fig.add_annotation(text="Accuracies", xref="paper", yref=f"y{sfx} domain",
                       x=(13 - M_L) / (W - M_L - M_R), y=0.5, textangle=-90,
                       xanchor="center", yanchor="middle", showarrow=False,
                       font=dict(family="Liberation Sans, Arial", size=10.5, color="#333333"))

# x axis title
fig.add_annotation(text="Index of training sample set.", xref="paper", yref="paper",
                   x=0.5, y=(H - M_B - 1384) / plot_h, xanchor="center", yanchor="middle",
                   showarrow=False,
                   font=dict(family="Liberation Serif, Times New Roman", size=17, color="black"))

# legend drawn inside the OA panel, like R's legend(ncol = 2)
row1_y, row2_y = 0.8543, 0.834
for (x0, x1, yy, col) in [(304.9, 317.9, row1_y, RED), (304.9, 317.9, row2_y, "#777777"),
                          (347.2, 360.9, row1_y, BLUE)]:
    fig.add_shape(type="line", xref="x9", yref="y9", x0=x0, x1=x1, y0=yy, y1=yy,
                  line=dict(color=col, width=2))
fig.add_shape(type="circle", xref="x9", yref="y9", xsizemode="pixel", ysizemode="pixel",
              xanchor=353.8, yanchor=row2_y, x0=-3, x1=3, y0=-3, y1=3,
              line=dict(color="#2e7d32", width=2))
leg_font = "Liberation Sans, Arial"
for (txt, xx, yy, col) in [("Classifier global accuracy", 320.5, row1_y, RED),
                           ("95% Confidence Interval", 321.0, row2_y, "#444444"),
                           ("Mean of bootstrap-sample accuracies", 362.5, row1_y, BLUE),
                           ("Training sample accuracy", 362.4, row2_y, "#4a8f3a")]:
    fig.add_annotation(text=txt, xref="x9", yref="y9", x=xx, y=yy, xanchor="left",
                       yanchor="middle", showarrow=False,
                       font=dict(family=leg_font, size=12.5, color=col))

fig.update_layout(width=W, height=H, margin=dict(l=M_L, r=M_R, t=M_T, b=M_B),
                  plot_bgcolor="white", paper_bgcolor="white", showlegend=False)

# the browser's default body margin would push the 747x1397 figure off the window
fig.write_html("out.html", config={"displayModeBar": False},
               post_script="document.body.style.margin = '0';")
